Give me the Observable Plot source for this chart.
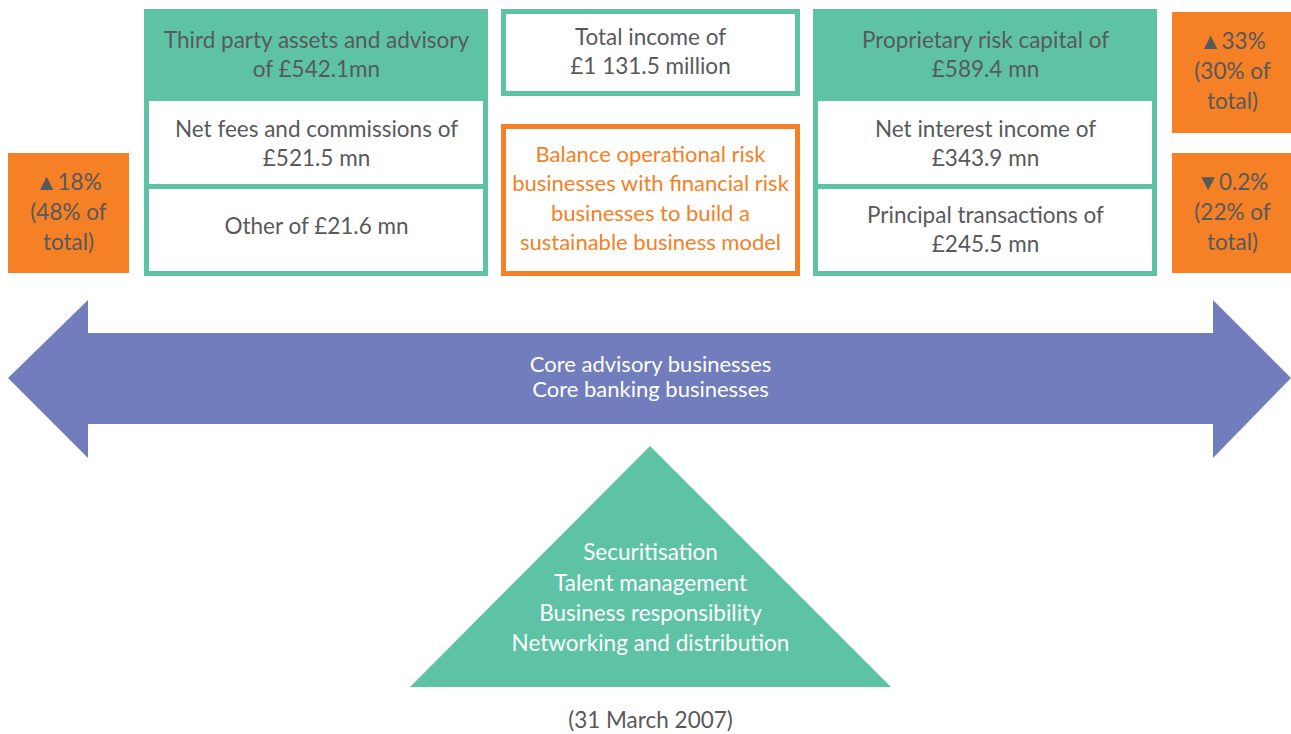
<!DOCTYPE html>
<html>
<head>
<meta charset="utf-8">
<script src="https://cdn.jsdelivr.net/npm/d3@7"></script>
<script src="https://cdn.jsdelivr.net/npm/@observablehq/plot@0.6"></script>
<style>
  html, body { margin: 0; padding: 0; background: #fff; }
  #chart svg { display: block; }
</style>
</head>
<body>
<div id="chart"></div>
<script>
// ---------- data ----------
const segments = ["Third party assets and advisory", "Proprietary risk capital"];
const segmentValues = [542.1, 589.4];
const leftItems = ["Net fees and commissions", "Other"];
const leftValues = [521.5, 21.6];
const rightItems = ["Net interest income", "Principal transactions"];
const rightValues = [343.9, 245.5];
const totalIncome = 1131.5;
const changeDirections = ["▲", "▲", "▼"];
const changeValues = [18, 33, 0.2];
const shareOfTotal = [48, 30, 22];
const strategyText = "Balance operational risk\nbusinesses with financial risk\nbusinesses to build a\nsustainable business model";
const arrowLabels = ["Core advisory businesses", "Core banking businesses"];
const pillars = ["Securitisation", "Talent management", "Business responsibility", "Networking and distribution"];
const dateLabel = "(31 March 2007)";

// ---------- styles ----------
const TEAL = "#5EC3A5", ORANGE = "#F58025", PURPLE = "#717DBC", GREY = "#58595B";
const FONT = "Lato, 'Open Sans', sans-serif";
const FS = 22.5;

// ---------- layout (positions in pixels) ----------
const W = 1291, H = 734;
const fmt = v => v.toFixed(1);

const groups = [
  {x1: 144, x2: 488}, {x1: 813, x2: 1157}
];
const groupRects = groups.map(g => ({x1: g.x1, x2: g.x2, y1: 9, y2: 276}));
const whiteCells = groups.flatMap(g => [
  {x1: g.x1 + 5, x2: g.x2 - 5, y1: 101, y2: 184},
  {x1: g.x1 + 5, x2: g.x2 - 5, y1: 189, y2: 271}
]);
const statBoxes = [
  {x1: 8, x2: 129, y1: 153, y2: 273, cx: 68, cy: 210},
  {x1: 1172, x2: 1291, y1: 12, y2: 133, cx: 1232, cy: 69},
  {x1: 1172, x2: 1291, y1: 153, y2: 273, cx: 1232, cy: 210}
];
const statTexts = statBoxes.map((b, i) => ({
  x: b.cx, y: b.cy,
  t: `${changeDirections[i]}${changeValues[i]}%\n(${shareOfTotal[i]}% of\ntotal)`
}));

const totalBox = [{x1: 503.5, x2: 797.5, y1: 11.5, y2: 93.5}];
const strategyBox = [{x1: 503.5, x2: 797.5, y1: 126.5, y2: 273.5}];

const headerTexts = [
  {x: 316, y: 52.5, t: `${segments[0]}\nof £${fmt(segmentValues[0])}mn`},
  {x: 985, y: 52.5, t: `${segments[1]} of\n£${fmt(segmentValues[1])} mn`}
];
const cellTexts = [
  {x: 316, y: 142, t: `${leftItems[0]} of\n£${fmt(leftValues[0])} mn`},
  {x: 316, y: 224, t: `${leftItems[1]} of £${fmt(leftValues[1])} mn`},
  {x: 985, y: 142, t: `${rightItems[0]} of\n£${fmt(rightValues[0])} mn`},
  {x: 985, y: 228, t: `${rightItems[1]} of\n£${fmt(rightValues[1])} mn`}
];
const totalStr = d3.format(",.1f")(totalIncome).replace(",", " ");
const totalText = [{x: 650, y: 49.5, t: `Total income of\n£${totalStr} million`}];
const arrowTexts = arrowLabels.map((t, i) => ({x: 650, y: 364.5 + i * 25, t}));

const arrow = [
  {x: 8, y1: 378, y2: 378},
  {x: 88, y1: 300, y2: 458},
  {x: 88, y1: 333, y2: 424},
  {x: 1213, y1: 333, y2: 424},
  {x: 1213, y1: 300, y2: 458},
  {x: 1291, y1: 378, y2: 378}
];
const triangle = [
  {x: 410, y1: 687, y2: 687},
  {x: 650, y1: 446, y2: 687},
  {x: 891, y1: 687, y2: 687}
];

const plot = Plot.plot({
  width: W, height: H,
  margin: 0,
  x: {type: "linear", domain: [0, W], range: [0, W], axis: null},
  y: {type: "linear", domain: [0, H], range: [0, H], axis: null},
  style: {fontFamily: FONT, background: "#fff"},
  marks: [
    Plot.areaY(arrow, {x: "x", y1: "y1", y2: "y2", fill: PURPLE, curve: "linear"}),
    Plot.areaY(triangle, {x: "x", y1: "y1", y2: "y2", fill: TEAL, curve: "linear"}),
    Plot.rect(groupRects, {x1: "x1", x2: "x2", y1: "y1", y2: "y2", fill: TEAL}),
    Plot.rect(whiteCells, {x1: "x1", x2: "x2", y1: "y1", y2: "y2", fill: "#fff"}),
    Plot.rect(statBoxes, {x1: "x1", x2: "x2", y1: "y1", y2: "y2", fill: ORANGE}),
    Plot.rect(totalBox, {x1: "x1", x2: "x2", y1: "y1", y2: "y2", fill: "#fff", stroke: TEAL, strokeWidth: 5}),
    Plot.rect(strategyBox, {x1: "x1", x2: "x2", y1: "y1", y2: "y2", fill: "#fff", stroke: ORANGE, strokeWidth: 5}),
    Plot.text(headerTexts, {x: "x", y: "y", text: "t", fill: GREY, fontSize: FS, lineHeight: 1.3, lineAnchor: "middle"}),
    Plot.text(cellTexts, {x: "x", y: "y", text: "t", fill: GREY, fontSize: FS, lineHeight: 1.3, lineAnchor: "middle"}),
    Plot.text(totalText, {x: "x", y: "y", text: "t", fill: GREY, fontSize: FS, lineHeight: 1.3, lineAnchor: "middle"}),
    Plot.text([{x: 650, y: 196, t: strategyText}], {x: "x", y: "y", text: "t", fill: ORANGE, fontSize: 22, lineHeight: 1.34, lineAnchor: "middle"}),
    Plot.text(statTexts, {x: "x", y: "y", text: "t", fill: GREY, fontSize: FS, lineHeight: 1.34, lineAnchor: "middle"}),
    Plot.text(arrowTexts, {x: "x", y: "y", text: "t", fill: "#fff", fontSize: 22, lineAnchor: "middle"}),
    Plot.text([{x: 650, y: 595.5, t: pillars.join("\n")}], {x: "x", y: "y", text: "t", fill: "#fff", fontSize: FS, lineHeight: 1.35, lineAnchor: "middle"}),
    Plot.text([{x: 650, y: 720, t: dateLabel}], {x: "x", y: "y", text: "t", fill: GREY, fontSize: FS, lineAnchor: "middle"})
  ]
});
document.getElementById("chart").appendChild(plot);
</script>
</body>
</html>
